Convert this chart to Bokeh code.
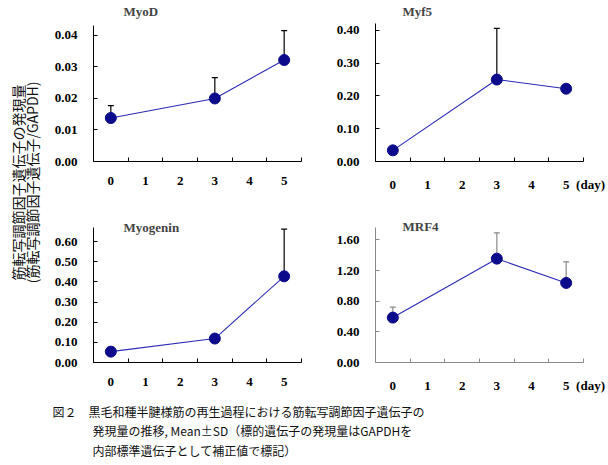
import math
from bokeh.plotting import figure
from bokeh.layouts import row, column
from bokeh.models import (ColumnDataSource, Range1d, FixedTicker, NumeralTickFormatter,
                          Whisker, TeeHead, Label)
from bokeh.embed import file_html
from bokeh.resources import INLINE

# ---------------- data ----------------
days = [0, 3, 5]
x_tick_labels = ["0", "1", "2", "3", "4", "5"]
day_unit = "(day)"

myod_mean = [0.0138, 0.0200, 0.0322]
myod_sd = [0.0039, 0.0066, 0.0093]

myf5_mean = [0.034, 0.250, 0.222]
myf5_sd = [0.008, 0.156, 0.005]

myog_mean = [0.054, 0.119, 0.428]
myog_sd = [0.021, 0.008, 0.234]

mrf4_mean = [0.586, 1.355, 1.038]
mrf4_sd = [0.137, 0.337, 0.275]

myod_ticks = [0.0, 0.01, 0.02, 0.03, 0.04]
myf5_ticks = [0.0, 0.1, 0.2, 0.3, 0.4]
myog_ticks = [0.0, 0.1, 0.2, 0.3, 0.4, 0.5, 0.6]
mrf4_ticks = [0.0, 0.4, 0.8, 1.2, 1.6]

ylabel_line1 = "筋転写調節因子遺伝子の発現量"
ylabel_line2 = "(筋転写調節因子遺伝子/GAPDH)"
caption_lines = [
    "図２\u3000黒毛和種半腱様筋の再生過程における筋転写調節因子遺伝子の",
    "発現量の推移, Mean±SD（標的遺伝子の発現量はGAPDHを",
    "内部標準遺伝子として補正値で標記）",
]

SERIF = "Liberation Serif"
CJK = "Noto Sans CJK JP"
MARK = "#0b0b8c"
LINE = "#2a2ab4"
CAT_PX = 208 / 6.0  # pixel width of one day category


def panel(title, mean, sd, ticks, ymax, fig_w, fig_h, left_border, bottom_border,
          axis_top_px, axis_color, err_color, day_label=False, title_dx=30, title_dy=14):
    frame_w = fig_w - left_border
    frame_h = fig_h - bottom_border
    axis_h = frame_h - axis_top_px
    x_end = -0.5 + frame_w / CAT_PX
    y_end = ymax * frame_h / axis_h
    p = figure(width=fig_w, height=fig_h, output_backend="svg", toolbar_location=None,
               x_range=Range1d(-0.5, x_end), y_range=Range1d(0, y_end),
               min_border_left=left_border, min_border_right=0,
               min_border_top=0, min_border_bottom=bottom_border)
    p.outline_line_color = None
    p.grid.visible = False
    p.background_fill_color = "white"
    p.border_fill_color = "white"

    xa = p.xaxis[0]
    xa.bounds = (-0.5, 5.5)
    xa.ticker = FixedTicker(ticks=[0, 1, 2, 3, 4, 5],
                            minor_ticks=[-0.5, 0.5, 1.5, 2.5, 3.5, 4.5, 5.5])
    overrides = {i: s for i, s in enumerate(x_tick_labels)}
    if day_label:
        overrides[5] = "\u00a0" * 11 + x_tick_labels[5] + "\u00a0\u00a0" + day_unit
    xa.major_label_overrides = overrides
    xa.major_tick_in = 0
    xa.major_tick_out = 0
    xa.minor_tick_in = 4
    xa.minor_tick_out = 0
    xa.major_label_standoff = 15

    ya = p.yaxis[0]
    ya.bounds = (0, ymax)
    ya.ticker = FixedTicker(ticks=ticks, minor_ticks=[])
    ya.formatter = NumeralTickFormatter(format="0.00")
    ya.major_tick_in = 4
    ya.major_tick_out = 0
    ya.major_label_standoff = 16

    for ax in (xa, ya):
        ax.axis_line_color = axis_color
        ax.major_tick_line_color = axis_color
        ax.minor_tick_line_color = axis_color
        ax.major_label_text_font = SERIF
        ax.major_label_text_font_style = "bold"
        ax.major_label_text_font_size = "13px"
        ax.major_label_text_color = "black"

    src = ColumnDataSource(dict(x=days, y=mean,
                                upper=[m + s for m, s in zip(mean, sd)]))
    p.add_layout(Whisker(source=src, base="x", lower="y", upper="upper",
                         line_color=err_color, line_width=1.2,
                         upper_head=TeeHead(size=6, line_color=err_color, line_width=1.2),
                         lower_head=None))
    p.line("x", "y", source=src, line_color=LINE, line_width=1.1)
    p.scatter("x", "y", source=src, size=11, fill_color=MARK, line_color=MARK)

    p.add_layout(Label(x=-0.5, y=ymax, x_offset=title_dx, y_offset=title_dy, text=title,
                       text_font=SERIF, text_font_style="bold", text_font_size="13px",
                       text_baseline="middle", text_align="left"))
    return p


f1 = panel("MyoD", myod_mean, myod_sd, myod_ticks, 0.0432, 275, 200, 48, 38, 25,
           "black", "black", title_dx=30, title_dy=14)
f2 = panel("Myf5", myf5_mean, myf5_sd, myf5_ticks, 0.421, 288, 200, 55, 39, 23,
           "black", "black", day_label=True, title_dx=27, title_dy=12)
f3 = panel("Myogenin", myog_mean, myog_sd, myog_ticks, 0.672, 275, 195, 48, 31, 27,
           "black", "black", title_dx=30, title_dy=0)
f4 = panel("MRF4", mrf4_mean, mrf4_sd, mrf4_ticks, 1.755, 288, 195, 55, 30, 28,
           "#8a8a8a", "#8a8a8a", day_label=True, title_dx=27, title_dy=1)

# y-axis label panel
LAB_W, LAB_H = 45, 395
lab = figure(width=LAB_W, height=LAB_H, output_backend="svg", toolbar_location=None,
             x_range=Range1d(0, LAB_W), y_range=Range1d(0, LAB_H),
             min_border=0, x_axis_type=None, y_axis_type=None)
lab.outline_line_color = None
lab.grid.visible = False
for xpos, t in zip([17, 31], [ylabel_line1, ylabel_line2]):
    lab.add_layout(Label(x=xpos, y=LAB_H - 182, text=t, angle=math.pi / 2,
                         text_font=CJK, text_font_size="14px",
                         text_align="center", text_baseline="middle", text_color="#111111"))

# caption panel
CAP_W, CAP_H = 608, 70
cap = figure(width=CAP_W, height=CAP_H, output_backend="svg", toolbar_location=None,
             x_range=Range1d(0, CAP_W), y_range=Range1d(0, CAP_H),
             min_border=0, x_axis_type=None, y_axis_type=None)
cap.outline_line_color = None
cap.grid.visible = False
cap_x = [52, 92, 92]
cap_y = [411, 430, 450]
for xpos, ypos, t in zip(cap_x, cap_y, caption_lines):
    cap.add_layout(Label(x=xpos, y=465 - ypos, text=t,
                         text_font=CJK, text_font_size="12px",
                         text_align="left", text_baseline="middle", text_color="#111111"))

grid = column(row(f1, f2), row(f3, f4))
page = column(row(lab, grid), cap)

open("out.html", "w").write(file_html(page, INLINE))
